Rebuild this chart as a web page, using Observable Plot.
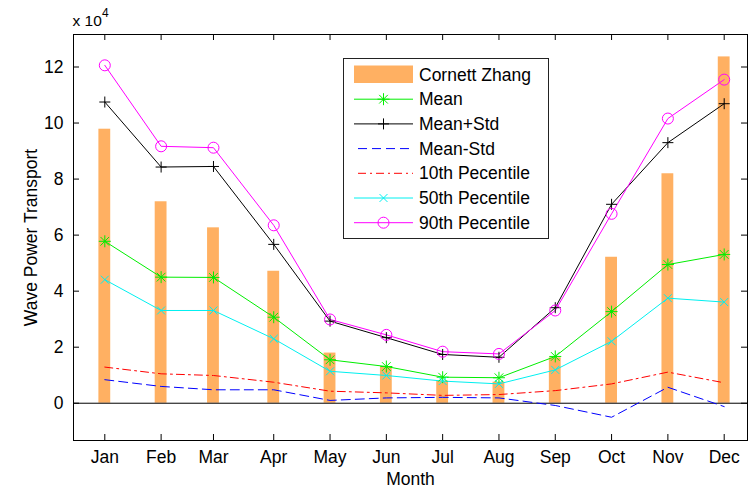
<!DOCTYPE html>
<html>
<head>
<meta charset="utf-8">
<script src="https://cdn.jsdelivr.net/npm/d3@7"></script>
<script src="https://cdn.jsdelivr.net/npm/@observablehq/plot@0.6"></script>
<style>
  html, body { margin: 0; padding: 0; background: #fff; }
  #chart { width: 755px; height: 488px; }
</style>
</head>
<body>
<div id="chart"></div>
<script>
// ---- data (values in units of 10^4) ----
const months = ["Jan","Feb","Mar","Apr","May","Jun","Jul","Aug","Sep","Oct","Nov","Dec"];
const monthX = [1, 2, 2.93, 4, 5, 6, 7, 8, 9, 10, 11, 12];
const cornettZhang = [9.78, 7.19, 6.26, 4.71, 1.79, 1.29, 0.79, 0.75, 1.62, 5.21, 8.19, 12.36];
const meanVals     = [5.78, 4.50, 4.49, 3.07, 1.55, 1.31, 0.93, 0.91, 1.67, 3.27, 4.95, 5.31];
const meanPlusStd  = [10.75, 8.43, 8.45, 5.67, 2.93, 2.34, 1.74, 1.64, 3.41, 7.10, 9.30, 10.69];
const meanMinusStd = [0.84, 0.60, 0.48, 0.48, 0.10, 0.19, 0.21, 0.19, -0.08, -0.50, 0.57, -0.12];
const p10 = [1.29, 1.05, 0.99, 0.75, 0.43, 0.37, 0.28, 0.31, 0.45, 0.69, 1.11, 0.73];
const p50 = [4.41, 3.31, 3.31, 2.30, 1.14, 0.99, 0.79, 0.69, 1.19, 2.21, 3.75, 3.61];
const p90 = [12.06, 9.17, 9.12, 6.35, 2.99, 2.44, 1.84, 1.76, 3.31, 6.76, 10.16, 11.55];
const yTicks = [0, 2, 4, 6, 8, 10, 12];

const data = months.map((m, i) => ({
  month: m, x: monthX[i], cz: cornettZhang[i], mean: meanVals[i],
  mps: meanPlusStd[i], mms: meanMinusStd[i], p10: p10[i], p50: p50[i], p90: p90[i]
}));

// ---- custom MATLAB-like markers ----
const symStar = { draw(ctx, size) { const r = Math.sqrt(size / Math.PI), d = r * 0.72;
  ctx.moveTo(-r, 0); ctx.lineTo(r, 0); ctx.moveTo(0, -r); ctx.lineTo(0, r);
  ctx.moveTo(-d, -d); ctx.lineTo(d, d); ctx.moveTo(-d, d); ctx.lineTo(d, -d); } };
const symPlus = { draw(ctx, size) { const r = Math.sqrt(size / Math.PI);
  ctx.moveTo(-r, 0); ctx.lineTo(r, 0); ctx.moveTo(0, -r); ctx.lineTo(0, r); } };
const symTimes = { draw(ctx, size) { const r = Math.sqrt(size / Math.PI) * 0.72;
  ctx.moveTo(-r, -r); ctx.lineTo(r, r); ctx.moveTo(-r, r); ctx.lineTo(r, -r); } };

const W = 755, H = 488, mL = 73, mR = 8, mT = 34, mB = 48;
const fW = W - mL - mR, fH = H - mT - mB, tk = 6;
const FONT = "'Liberation Sans', Arial, Helvetica, sans-serif";
const FS = 17.5;

const series = [
  {key: "mean", label: "Mean", color: "#00ee00", sym: symStar, r: 6},
  {key: "mps", label: "Mean+Std", color: "#000000", sym: symPlus, r: 5.5},
  {key: "mms", label: "Mean-Std", color: "#0000ff", dash: "9,5"},
  {key: "p10", label: "10th Pecentile", color: "#ff0000", dash: "8,4,2,4"},
  {key: "p50", label: "50th Pecentile", color: "#00f0f0", sym: symTimes, r: 5.5},
  {key: "p90", label: "90th Pecentile", color: "#ff00ff", sym: "circle", r: 5.5}
];

const marks = [
  Plot.rectY(data, {x1: d => d.x - 0.105, x2: d => d.x + 0.105, y1: 0, y2: "cz", fill: "#ffb062"}),
  Plot.ruleY([0], {stroke: "black", strokeWidth: 1}),
];
for (const s of series) {
  marks.push(Plot.line(data, {x: "x", y: s.key, stroke: s.color, strokeWidth: 1,
    strokeDasharray: s.dash || null}));
}
for (const s of series) {
  if (s.sym) marks.push(Plot.dot(data, {x: "x", y: s.key, symbol: s.sym, r: s.r,
    stroke: s.color, fill: "none", strokeWidth: 1}));
}
marks.push(
  Plot.frame({stroke: "black", strokeWidth: 1}),
  Plot.tickX(monthX, {x: d => d, insetTop: fH - tk, stroke: "black"}),
  Plot.tickX(monthX, {x: d => d, insetBottom: fH - tk, stroke: "black"}),
  Plot.tickY(yTicks, {y: d => d, insetRight: fW - tk, stroke: "black"}),
  Plot.tickY(yTicks, {y: d => d, insetLeft: fW - tk, stroke: "black"}),
  Plot.axisX({ticks: monthX, tickFormat: d => months[monthX.indexOf(d)], tickSize: 0,
    tickPadding: 10, label: null, fontSize: FS}),
  Plot.axisY({ticks: yTicks, tickFormat: d => String(d), tickSize: 0, tickPadding: 10,
    label: null, fontSize: FS}),
  Plot.text(["Month"], {frameAnchor: "bottom", textAnchor: "middle", lineAnchor: "middle",
    dy: 39, fontSize: FS, fill: "black"}),
  Plot.text(["Wave Power Transport"], {frameAnchor: "left", textAnchor: "middle", lineAnchor: "middle",
    dx: -42, rotate: -90, fontSize: FS, fill: "black"}),
  Plot.text(["x 10"], {frameAnchor: "top-left", textAnchor: "start", lineAnchor: "middle",
    dx: -1, dy: -13, fontSize: 15.5, fill: "black"}),
  Plot.text(["4"], {frameAnchor: "top-left", textAnchor: "start", lineAnchor: "middle",
    dx: 28.5, dy: -21, fontSize: 12, fill: "black"})
);

const svg = Plot.plot({
  width: W, height: H,
  marginLeft: mL, marginRight: mR, marginTop: mT, marginBottom: mB,
  style: {fontFamily: FONT, fontSize: FS + "px", background: "white", color: "black"},
  x: {type: "linear", domain: [0.444, 12.414]},
  y: {type: "linear", domain: [-1.33, 13.16]},
  marks
});
document.getElementById("chart").appendChild(svg);

// ---- legend (inside the axes, top centre-right) ----
const root = d3.select(svg);
const lg = root.append("g").attr("font-family", FONT).attr("font-size", FS)
  .attr("text-anchor", "start");
const lx = 343.5, ly = 58.5, lw = 205, lh = 180;
lg.append("rect").attr("x", lx).attr("y", ly).attr("width", lw).attr("height", lh)
  .attr("fill", "white").attr("stroke", "#222").attr("stroke-width", 1);
const rowY0 = 74.5, rowStep = 24.7, s1 = 354, s2 = 413, tx = 419;
const entries = [{label: "Cornett Zhang", bar: true}, ...series];
entries.forEach((e, i) => {
  const y = rowY0 + i * rowStep;
  if (e.bar) {
    lg.append("rect").attr("x", s1).attr("y", y - 9).attr("width", s2 - s1).attr("height", 17.5)
      .attr("fill", "#ffb062");
  } else {
    lg.append("line").attr("x1", e.dash ? s1 + 4 : s1).attr("x2", s2).attr("y1", y).attr("y2", y)
      .attr("stroke", e.color).attr("stroke-width", 1)
      .attr("stroke-dasharray", e.dash || null);
    if (e.sym) {
      const size = e.r * e.r * Math.PI;
      const path = d3.symbol(e.sym === "circle" ? d3.symbolCircle : e.sym, size)();
      lg.append("path").attr("d", path).attr("transform", `translate(${(s1 + s2) / 2},${y})`)
        .attr("fill", "none").attr("stroke", e.color).attr("stroke-width", 1);
    }
  }
  lg.append("text").attr("x", tx).attr("y", y).attr("dy", "0.35em").attr("fill", "black")
    .attr("text-anchor", "start").text(e.label);
});
</script>
</body>
</html>
